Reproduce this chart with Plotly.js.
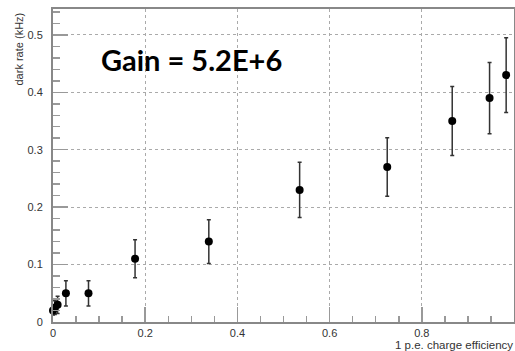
<!DOCTYPE html>
<html>
<head>
<meta charset="utf-8">
<script src="https://cdn.plot.ly/plotly-3.0.1.min.js"></script>
<style>html,body{margin:0;padding:0;background:#fff;}#chart{width:515px;height:351px;}</style>
</head>
<body>
<div id="chart"></div>
<script>
const efficiency = [0.0, 0.004, 0.01, 0.028, 0.077, 0.178, 0.338, 0.535, 0.725, 0.866, 0.947, 0.983];
const darkRate   = [0.02, 0.025, 0.03, 0.05, 0.05, 0.11, 0.14, 0.23, 0.27, 0.35, 0.39, 0.43];
const rateError  = [0.008, 0.012, 0.015, 0.022, 0.022, 0.033, 0.038, 0.048, 0.051, 0.06, 0.062, 0.065];
const xTicks = [0, 0.2, 0.4, 0.6, 0.8, 1];
const xTickLabels = ["0", "0.2", "0.4", "0.6", "0.8", "1"];
const yTicks = [0, 0.1, 0.2, 0.3, 0.4, 0.5];
const yTickLabels = ["0", "0.1", "0.2", "0.3", "0.4", "0.5"];
const gainLabel = "Gain = 5.2E+6";
const xTitle = "1 p.e. charge efficiency";
const yTitle = "dark rate (kHz)";

const trace = {
  x: efficiency, y: darkRate, type: 'scatter', mode: 'markers',
  marker: {color: '#000', size: 8},
  error_y: {type: 'data', array: rateError, visible: true, color: '#333', thickness: 1.5, width: 2},
  hoverinfo: 'skip', cliponaxis: false
};

const axisCommon = {
  showline: true, linecolor: '#888', linewidth: 2, mirror: true,
  ticks: 'inside', ticklen: 15, tickcolor: '#999', tickwidth: 1.5,
  showgrid: true, gridcolor: '#aaa', griddash: 'dot', gridwidth: 1,
  zeroline: false, tickfont: {family: 'Liberation Sans, Arial', size: 11, color: '#333'},
  tickmode: 'array', fixedrange: true
};

const layout = {
  width: 515, height: 351,
  margin: {l: 53, r: 1, t: 9, b: 29, pad: 0},
  paper_bgcolor: '#fff', plot_bgcolor: '#fff',
  showlegend: false,
  xaxis: Object.assign({}, axisCommon, {
    range: [0, 1], tickvals: xTicks, ticktext: xTickLabels, ticklabelstandoff: 0,
    minor: {dtick: 0.05, ticks: 'inside', ticklen: 6, tickcolor: '#999', tickwidth: 1.5, showgrid: false}
  }),
  yaxis: Object.assign({}, axisCommon, {
    range: [0, 0.545], tickvals: yTicks, ticktext: yTickLabels, ticklabelstandoff: 6,
    minor: {dtick: 0.02, ticks: 'inside', ticklen: 7, tickcolor: '#999', tickwidth: 1.5, showgrid: false}
  }),
  annotations: [
    {text: '<b>' + gainLabel + '</b>', xref: 'paper', yref: 'paper', x: 0.1, y: 0.84,
     xanchor: 'left', yanchor: 'middle', showarrow: false,
     font: {family: 'Lato, Open Sans', size: 29, color: '#000'}},
    {text: xTitle, xref: 'paper', yref: 'paper', x: 1, y: 0, xanchor: 'right', yanchor: 'top',
     xshift: 0, yshift: -16, showarrow: false, borderpad: 0,
     font: {family: 'Liberation Sans, Arial', size: 11.5, color: '#333'}},
    {text: yTitle, xref: 'paper', yref: 'paper', x: 0, y: 1, xanchor: 'center', yanchor: 'top',
     xshift: -35, yshift: -2, textangle: -90, showarrow: false,
     font: {family: 'Liberation Sans, Arial', size: 11, color: '#333'}}
  ]
};

Plotly.newPlot('chart', [trace], layout, {staticPlot: true, displayModeBar: false});
</script>
</body>
</html>
